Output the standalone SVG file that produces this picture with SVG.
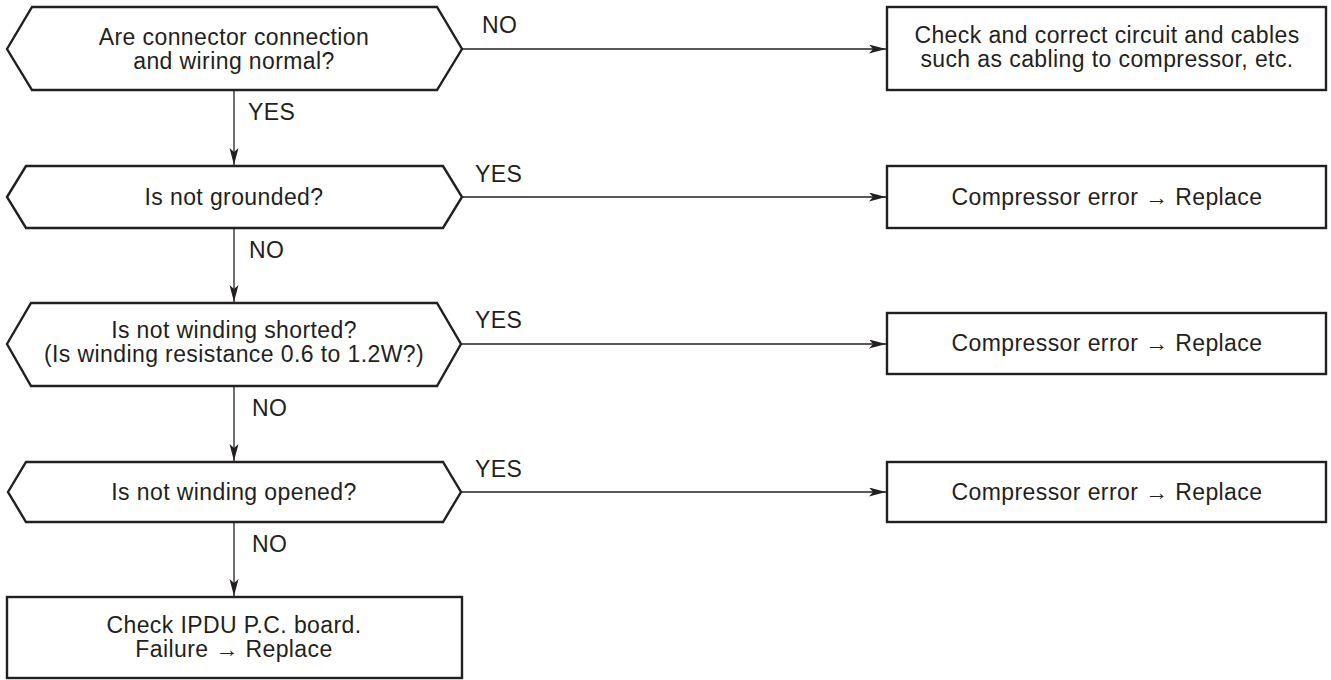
<svg xmlns="http://www.w3.org/2000/svg" width="1331" height="680" viewBox="0 0 1331 680">
<style>
.shape{fill:#ffffff;stroke:#231f20;stroke-width:2.4;stroke-linejoin:miter}
.t{font-family:"Liberation Sans",Arial,sans-serif;font-size:23px;letter-spacing:0.4px;fill:#231f20;text-anchor:middle}
.lbl{font-family:"Liberation Sans",Arial,sans-serif;font-size:23px;letter-spacing:0.4px;fill:#231f20;text-anchor:start}
.c{fill:none;stroke:#231f20;stroke-width:1.3}
</style>
<defs>
<marker id="ah" markerUnits="userSpaceOnUse" markerWidth="18" markerHeight="10" refX="17" refY="4.5" orient="auto">
<path d="M0,0 L17,4.5 L0,9 L4,4.5 z" fill="#231f20"/>
</marker>
</defs>
<rect width="1331" height="680" fill="#ffffff"/>
<g id="connectors">
<line class="c" x1="462" y1="49" x2="886" y2="49" marker-end="url(#ah)"/>
<line class="c" x1="462" y1="197" x2="886" y2="197" marker-end="url(#ah)"/>
<line class="c" x1="461" y1="344" x2="886" y2="344" marker-end="url(#ah)"/>
<line class="c" x1="461" y1="492" x2="886" y2="492" marker-end="url(#ah)"/>
<line class="c" x1="234" y1="90" x2="234" y2="165" marker-end="url(#ah)"/>
<line class="c" x1="234" y1="228" x2="234" y2="302" marker-end="url(#ah)"/>
<line class="c" x1="234" y1="386" x2="234" y2="461" marker-end="url(#ah)"/>
<line class="c" x1="234" y1="522" x2="234" y2="596" marker-end="url(#ah)"/>
<text class="lbl" x="482" y="33">NO</text>
<text class="lbl" x="475" y="182">YES</text>
<text class="lbl" x="475" y="328">YES</text>
<text class="lbl" x="475" y="477">YES</text>
<text class="lbl" x="248" y="120">YES</text>
<text class="lbl" x="249" y="258">NO</text>
<text class="lbl" x="252" y="416">NO</text>
<text class="lbl" x="252" y="552">NO</text>
</g>
<g id="q1">
<polygon class="shape" points="7,49 32,7 437,7 462,49 437,90 32,90"/>
<text class="t" x="234" y="45">Are connector connection</text>
<text class="t" x="234" y="69">and wiring normal?</text>
</g>
<g id="q2">
<polygon class="shape" points="7,197 26,166 443,166 462,197 443,228 26,228"/>
<text class="t" x="234" y="205">Is not grounded?</text>
</g>
<g id="q3">
<polygon class="shape" points="7,344 31,303 437,303 461,344 437,386 31,386"/>
<text class="t" x="234" y="338">Is not winding shorted?</text>
<text class="t" x="234" y="362">(Is winding resistance 0.6 to 1.2W?)</text>
</g>
<g id="q4">
<polygon class="shape" points="8,492 26,462 443,462 461,492 443,522 26,522"/>
<text class="t" x="234" y="500">Is not winding opened?</text>
</g>
<g id="r1">
<rect class="shape" x="887" y="7" width="439" height="83"/>
<text class="t" x="1107" y="43">Check and correct circuit and cables</text>
<text class="t" x="1107" y="67">such as cabling to compressor, etc.</text>
</g>
<g id="r2">
<rect class="shape" x="887" y="166" width="439" height="62"/>
<text class="t" x="1107" y="205">Compressor error → Replace</text>
</g>
<g id="r3">
<rect class="shape" x="887" y="313" width="439" height="61"/>
<text class="t" x="1107" y="351">Compressor error → Replace</text>
</g>
<g id="r4">
<rect class="shape" x="887" y="462" width="439" height="60"/>
<text class="t" x="1107" y="500">Compressor error → Replace</text>
</g>
<g id="end">
<rect class="shape" x="7" y="597" width="455" height="81"/>
<text class="t" x="234" y="633">Check IPDU P.C. board.</text>
<text class="t" x="234" y="657">Failure → Replace</text>
</g>
</svg>
